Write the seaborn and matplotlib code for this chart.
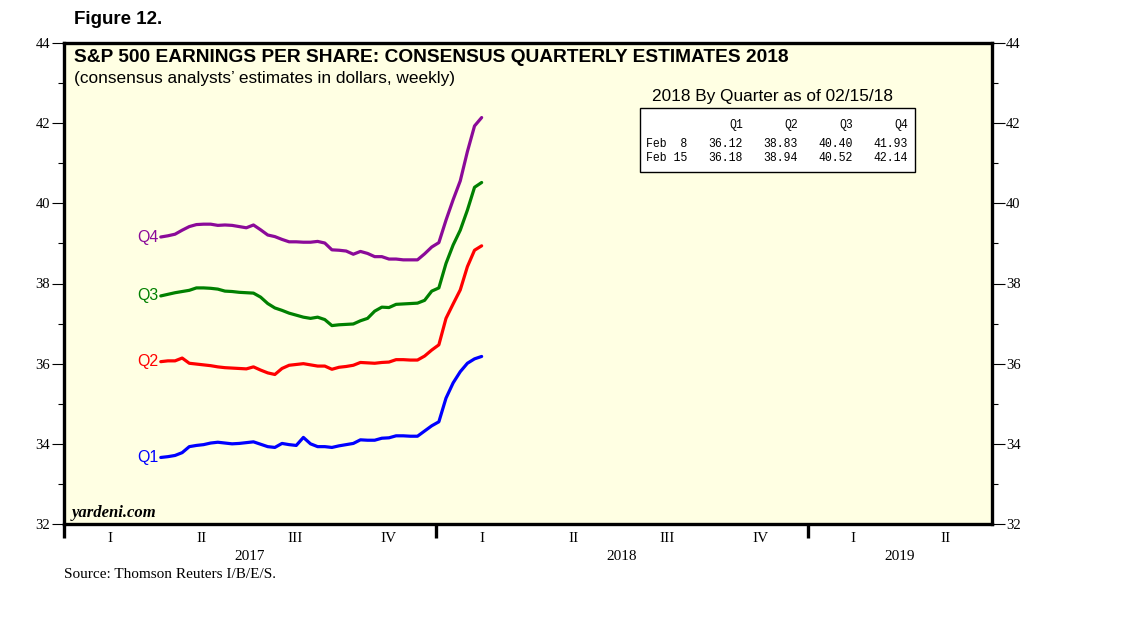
import pandas as pd
import numpy as np
import matplotlib
matplotlib.use("Agg")
import matplotlib.pyplot as plt
import matplotlib.dates as mdates
import matplotlib.transforms as mtransforms
from matplotlib.patches import Rectangle
import seaborn as sns

# weekly consensus estimates for 2018 quarters
weeks = pd.date_range("2017-04-06", periods=46, freq="7D")

q1 = [33.66, 33.68, 33.71, 33.78, 33.93, 33.96, 33.98, 34.02, 34.04, 34.02,
      34.00, 34.01, 34.03, 34.05, 33.99, 33.93, 33.91, 34.01, 33.98, 33.96,
      34.16, 34.00, 33.93, 33.93, 33.91, 33.95, 33.98, 34.01, 34.10, 34.09,
      34.09, 34.14, 34.15, 34.20, 34.20, 34.19, 34.19, 34.32, 34.45, 34.55,
      35.14, 35.52, 35.80, 36.01, 36.12, 36.18]
q2 = [36.05, 36.07, 36.07, 36.14, 36.01, 35.99, 35.97, 35.95, 35.92, 35.90,
      35.89, 35.88, 35.87, 35.92, 35.84, 35.77, 35.73, 35.88, 35.96, 35.98,
      36.00, 35.97, 35.94, 35.94, 35.86, 35.91, 35.93, 35.96, 36.03, 36.02,
      36.01, 36.03, 36.04, 36.10, 36.10, 36.09, 36.09, 36.19, 36.34, 36.47,
      37.13, 37.49, 37.84, 38.42, 38.83, 38.94]
q3 = [37.69, 37.73, 37.77, 37.80, 37.83, 37.89, 37.89, 37.88, 37.86, 37.81,
      37.80, 37.78, 37.77, 37.76, 37.66, 37.50, 37.39, 37.33, 37.26, 37.21,
      37.16, 37.13, 37.16, 37.10, 36.95, 36.97, 36.98, 36.99, 37.07, 37.13,
      37.31, 37.41, 37.40, 37.48, 37.49, 37.50, 37.51, 37.58, 37.81, 37.89,
      38.50, 38.96, 39.33, 39.83, 40.40, 40.52]
q4 = [39.16, 39.19, 39.23, 39.33, 39.42, 39.47, 39.48, 39.48, 39.45, 39.46,
      39.45, 39.42, 39.39, 39.46, 39.34, 39.21, 39.17, 39.10, 39.04, 39.04,
      39.03, 39.03, 39.05, 39.01, 38.84, 38.83, 38.81, 38.73, 38.80, 38.75,
      38.67, 38.67, 38.61, 38.61, 38.59, 38.59, 38.59, 38.74, 38.91, 39.02,
      39.58, 40.09, 40.56, 41.29, 41.93, 42.14]

series = {"Q1": q1, "Q2": q2, "Q3": q3, "Q4": q4}
colors = {"Q1": "#0000FF", "Q2": "#FF0000", "Q3": "#008000", "Q4": "#8B0A99"}

table_rows = ["Feb  8", "Feb 15"]
quarter_names = ["I", "II", "III", "IV"]
years = [2017, 2018, 2019]

df = pd.concat([pd.DataFrame({"date": weeks, "eps": v, "quarter": k})
                for k, v in series.items()], ignore_index=True)

sns.set_style("ticks")
plt.rcParams.update({"text.color": "black", "axes.labelcolor": "black",
                     "xtick.color": "black", "ytick.color": "black"})
sans = "Liberation Sans"
serif = "Liberation Serif"
mono = "Liberation Mono"

W, H = 1138, 621
fig = plt.figure(figsize=(W / 100, H / 100), dpi=100)


def fx(x):
    return x / W


def fy(y):
    return 1 - y / H


ax = fig.add_axes([fx(64), fy(524), fx(992) - fx(64), fy(43) - fy(524)])
ax.set_facecolor("#FFFFE3")

sns.lineplot(data=df, x="date", y="eps", hue="quarter", palette=colors,
             linewidth=2.3, legend=False, ax=ax)

xmin, xmax = pd.Timestamp("2017-01-01"), pd.Timestamp("2019-07-01")
ax.set_xlim(xmin, xmax)
ax.set_ylim(32, 44)
ax.set_xlabel("")
ax.set_ylabel("")

for s in ax.spines.values():
    s.set_linewidth(2.4)
    s.set_color("black")

# y axis: both sides, outward ticks
ax.set_yticks(np.arange(32, 45, 2))
ax.set_yticks(np.arange(33, 44, 2), minor=True)
ax.tick_params(axis="y", which="both", left=True, right=True,
               labelleft=True, labelright=True, direction="out", width=0.8,
               labelsize=10.5, pad=1)
ax.tick_params(axis="y", which="major", length=9)
ax.tick_params(axis="y", which="minor", length=4)
for lab in ax.get_yticklabels():
    lab.set_fontfamily(serif)

# x axis: year boundary ticks, quarter labels in between
year_edges = [pd.Timestamp(f"{y}-01-01") for y in years]
ax.set_xticks(year_edges)
ax.set_xticklabels([""] * len(year_edges))
q_mid = []
q_lab = []
d = xmin
while d < xmax:
    nxt = d + pd.DateOffset(months=3)
    q_mid.append(d + (nxt - d) / 2)
    q_lab.append(quarter_names[(d.month - 1) // 3])
    d = nxt
ax.set_xticks(q_mid, minor=True)
ax.set_xticklabels(q_lab, minor=True, fontfamily=serif, fontsize=11)
ax.tick_params(axis="x", which="major", direction="out", length=10, width=2.4)
ax.tick_params(axis="x", which="minor", length=0, pad=6)

trans = mtransforms.blended_transform_factory(ax.transData, fig.transFigure)
for y in years:
    a = pd.Timestamp(f"{y}-01-01")
    b = min(pd.Timestamp(f"{y + 1}-01-01"), xmax)
    mid = a + (b - a) / 2
    ax.text(mdates.date2num(mid), fy(556), str(y), transform=trans,
            ha="center", va="center", fontfamily=serif, fontsize=11)

# series labels at the start of each line
for k, v in series.items():
    ax.text(weeks[0] - pd.Timedelta(days=2), v[0], k, color=colors[k],
            ha="right", va="center", fontfamily=sans, fontsize=11.5)

# titles
fig.text(fx(74), fy(20), "Figure 12.", fontfamily=sans, fontweight="bold",
         fontsize=13.5, va="center")
fig.text(fx(74), fy(58), "S&P 500 EARNINGS PER SHARE: CONSENSUS QUARTERLY ESTIMATES 2018",
         fontfamily=sans, fontweight="bold", fontsize=13.8, va="center")
fig.text(fx(74), fy(78), "(consensus analysts\u2019 estimates in dollars, weekly)",
         fontfamily=sans, fontsize=12.4, va="center")
fig.text(fx(72), fy(513), "yardeni.com", fontfamily=serif, fontweight="bold",
         fontstyle="italic", fontsize=12, va="center")
fig.text(fx(64), fy(574), "Source: Thomson Reuters I/B/E/S.", fontfamily=serif,
         fontsize=11, va="center")

# table box with the last two weekly readings
fig.text(fx(652), fy(97), "2018 By Quarter as of 02/15/18", fontfamily=sans,
         fontsize=12.4, va="center")
fig.patches.append(Rectangle((fx(640), fy(172)), fx(915) - fx(640), fy(108) - fy(172),
                             transform=fig.transFigure, fill=True, facecolor="white",
                             edgecolor="black", linewidth=1))
col_right = [743, 798, 853, 908]
row_y = [144, 158]
for k, xr in zip(series, col_right):
    fig.text(fx(xr), fy(125), k, fontfamily=mono, fontsize=8.3, ha="right", va="center")
for i, (name, yy) in enumerate(zip(table_rows, row_y)):
    fig.text(fx(646), fy(yy), name, fontfamily=mono, fontsize=8.3, va="center")
    for k, xr in zip(series, col_right):
        val = series[k][len(weeks) - 2 + i]
        fig.text(fx(xr), fy(yy), f"{val:.2f}", fontfamily=mono, fontsize=8.3,
                 ha="right", va="center")

fig.savefig("out.png", dpi=100)
